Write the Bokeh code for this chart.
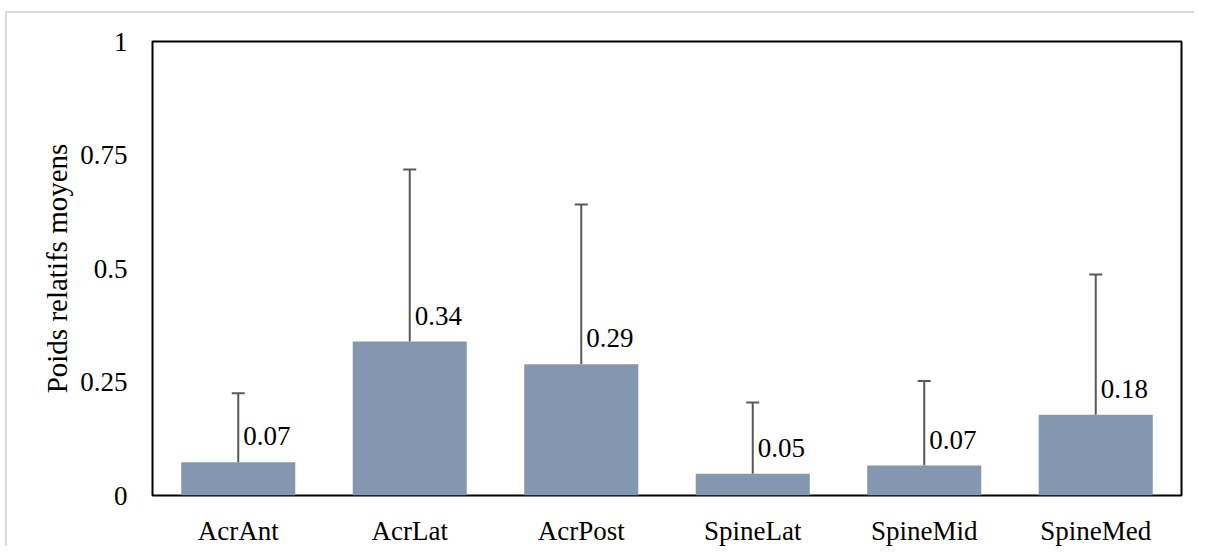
from bokeh.plotting import figure
from bokeh.models import ColumnDataSource, FixedTicker, Whisker, LabelSet, TeeHead
from bokeh.embed import file_html
from bokeh.resources import INLINE

categories = ["AcrAnt", "AcrLat", "AcrPost", "SpineLat", "SpineMid", "SpineMed"]
means = [0.073, 0.339, 0.289, 0.048, 0.066, 0.178]
upper = [0.225, 0.718, 0.641, 0.205, 0.252, 0.487]
labels = ["0.07", "0.34", "0.29", "0.05", "0.07", "0.18"]
yticks = [0, 0.25, 0.5, 0.75, 1]
ytick_labels = ["0", "0.25", "0.5", "0.75", "1"]

src = ColumnDataSource(dict(cat=categories, mean=means, upper=upper, label=labels))

FONT = "Liberation Serif"

p = figure(x_range=categories, y_range=(0, 1), width=1189, height=535,
           output_backend="svg", toolbar_location=None,
           min_border_left=145, min_border_top=28, min_border_right=15, min_border_bottom=53)

p.vbar(x="cat", top="mean", width=0.665, source=src, color="#8497b0", line_color=None)

w = Whisker(base="cat", upper="upper", lower="mean", source=src, line_color="#595959", line_width=2,
            upper_head=TeeHead(size=13, line_color="#595959", line_width=2), lower_head=None)
p.add_layout(w)

lab = LabelSet(x="cat", y="mean", text="label", source=src, x_offset=5, y_offset=17,
               text_font=FONT, text_font_size="27px", text_color="black",
               text_baseline="bottom", text_align="left")
p.add_layout(lab)

p.xgrid.visible = False
p.ygrid.visible = False
p.outline_line_color = "black"
p.outline_line_width = 2
p.background_fill_color = "white"
p.border_fill_color = "white"

p.yaxis.ticker = FixedTicker(ticks=yticks)
p.yaxis.major_label_overrides = {t: l for t, l in zip(yticks, ytick_labels)}
p.yaxis.axis_label = "Poids relatifs moyens"
for ax in (p.xaxis, p.yaxis):
    ax.axis_line_color = None
    ax.major_tick_line_color = None
    ax.minor_tick_line_color = None
    ax.major_label_text_font = FONT
    ax.major_label_text_font_size = "27px"
    ax.major_label_text_color = "black"
    ax.axis_label_text_font = FONT
    ax.axis_label_text_font_size = "29px"
    ax.axis_label_text_font_style = "normal"
    ax.axis_label_text_color = "black"
p.yaxis.major_label_standoff = 19
p.xaxis.major_label_standoff = 14
p.yaxis.axis_label_standoff = 4
p.x_range.range_padding = 0

p.styles = {"margin-left": "5px", "margin-top": "11px",
            "border-top": "2px solid #d9d9d9", "border-left": "2px solid #d9d9d9"}

open("out.html", "w").write(file_html(p, INLINE))
